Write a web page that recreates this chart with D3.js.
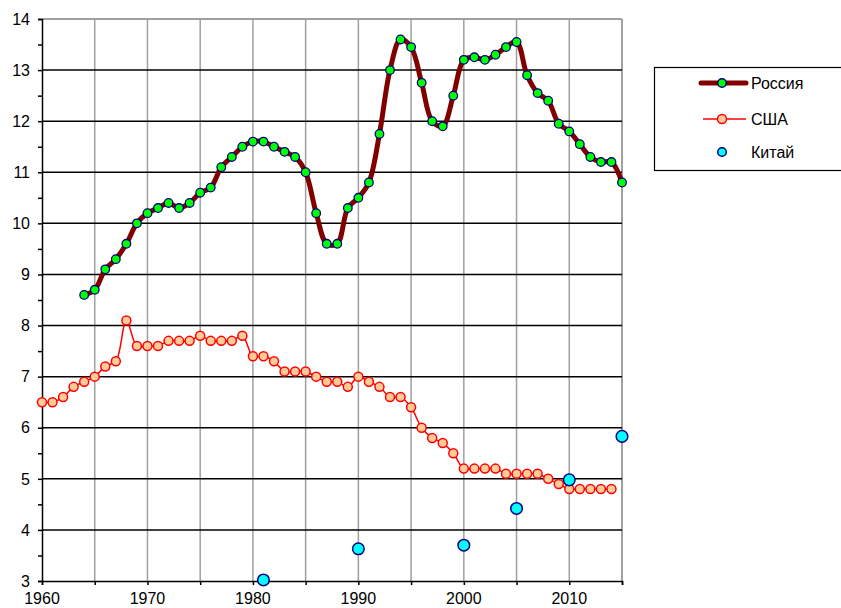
<!DOCTYPE html>
<html>
<head>
<meta charset="utf-8">
<script src="https://cdn.jsdelivr.net/npm/d3@7"></script>
<style>
  body { margin: 0; background: #fff; }
  text { font-family: "Liberation Sans", Arial, sans-serif; font-size: 16px; fill: #000; }
</style>
</head>
<body>
<div id="chart"></div>
<script>
// data
var russiaYears = d3.range(1964, 2016)
var russiaValues = [8.6, 8.7, 9.1, 9.3, 9.6, 10.0, 10.2, 10.3, 10.4, 10.3,
    10.4, 10.6, 10.7, 11.1, 11.3, 11.5, 11.6, 11.6, 11.5, 11.4,
    11.3, 11.0, 10.2, 9.6, 9.6, 10.3, 10.5, 10.8, 11.75, 13.0,
    13.6, 13.45, 12.75, 12.0, 11.9, 12.5, 13.2, 13.25, 13.2, 13.3,
    13.45, 13.55, 12.9, 12.55, 12.4, 11.95, 11.8, 11.55, 11.3, 11.2,
    11.2, 10.8]

var usaYears = d3.range(1960, 2015)
var usaValues = [6.5, 6.5, 6.6, 6.8, 6.9, 7.0, 7.2, 7.3, 8.1, 7.6,
    7.6, 7.6, 7.7, 7.7, 7.7, 7.8, 7.7, 7.7, 7.7, 7.8,
    7.4, 7.4, 7.3, 7.1, 7.1, 7.1, 7.0, 6.9, 6.9, 6.8,
    7.0, 6.9, 6.8, 6.6, 6.6, 6.4, 6.0, 5.8, 5.7, 5.5,
    5.2, 5.2, 5.2, 5.2, 5.1, 5.1, 5.1, 5.1, 5.0, 4.9,
    4.8, 4.8, 4.8, 4.8, 4.8]

var chinaYears = [1981, 1990, 2000, 2005, 2010, 2015]
var chinaValues = [3.02, 3.63, 3.7, 4.42, 4.98, 5.83]

var seriesNames = ["Россия", "США", "Китай"]
var xTickLabels = [1960, 1970, 1980, 1990, 2000, 2010]
var yTickLabels = [3, 4, 5, 6, 7, 8, 9, 10, 11, 12, 13, 14]

// set the dimensions of the plot
var margin = {top: 19, left: 42},
    width = 580,
    height = 562

var svg = d3.select("#chart")
    .append("svg")
    .attr("width", 841)
    .attr("height", 608)

var g = svg.append("g")
    .attr("transform", "translate(" + margin.left + "," + margin.top + ")")

var x = d3.scaleLinear().domain([1960, 2015]).range([0, width])
var y = d3.scaleLinear().domain([3, 14]).range([height, 0])

// vertical grid (gray, every 5 years)
g.append("g")
    .selectAll("line")
    .data(d3.range(1965, 2016, 5))
    .enter().append("line")
    .attr("x1", d => x(d)).attr("x2", d => x(d))
    .attr("y1", 0).attr("y2", height)
    .style("stroke", "#a0a0a0")
    .style("stroke-width", d => d == 2015 ? 2 : 1.5)

// horizontal grid (black)
g.append("g")
    .selectAll("line")
    .data(d3.range(4, 15))
    .enter().append("line")
    .attr("x1", 0).attr("x2", width)
    .attr("y1", d => y(d)).attr("y2", d => y(d))
    .style("stroke", d => d == 14 ? "#a0a0a0" : "#000")
    .style("stroke-width", d => d == 14 ? 2 : 1.5)

// y axis
var yAxis = g.append("g")
    .call(d3.axisLeft(y).tickValues(d3.range(3, 14.01, 0.5)).tickSize(4).tickFormat(""))
yAxis.selectAll("path, line").style("stroke", "#000").style("stroke-width", 1.5)
g.append("g")
    .selectAll("text")
    .data(yTickLabels)
    .enter().append("text")
    .attr("x", -12)
    .attr("y", d => y(d))
    .attr("dy", "0.36em")
    .attr("text-anchor", "end")
    .text(d => d)

// x axis
var xAxis = g.append("g")
    .attr("transform", "translate(0," + height + ")")
    .call(d3.axisBottom(x).tickValues(d3.range(1960, 2016, 5)).tickSize(4).tickFormat(""))
xAxis.selectAll("path, line").style("stroke", "#000").style("stroke-width", 1.5)
g.append("g")
    .selectAll("text")
    .data(xTickLabels)
    .enter().append("text")
    .attr("x", d => x(d))
    .attr("y", height + 23)
    .attr("text-anchor", "middle")
    .text(d => d)

var curve = d3.curveCatmullRom.alpha(0.5)

// USA
var usa = usaYears.map((d, i) => ({year: d, value: usaValues[i]}))
g.append("path")
    .datum(usa)
    .attr("fill", "none")
    .attr("stroke", "#ff0000")
    .attr("stroke-width", 1.5)
    .attr("d", d3.line().curve(curve).x(d => x(d.year)).y(d => y(d.value)))
g.selectAll("usaDots")
    .data(usa)
    .enter().append("circle")
    .attr("cx", d => x(d.year))
    .attr("cy", d => y(d.value))
    .attr("r", 4.5)
    .style("fill", "#ffcc99")
    .style("stroke", "#ff0000")
    .style("stroke-width", 1.5)

// Russia
var russia = russiaYears.map((d, i) => ({year: d, value: russiaValues[i]}))
g.append("path")
    .datum(russia)
    .attr("fill", "none")
    .attr("stroke", "#800000")
    .attr("stroke-width", 5)
    .attr("d", d3.line().curve(curve).x(d => x(d.year)).y(d => y(d.value)))
g.selectAll("russiaDots")
    .data(russia)
    .enter().append("circle")
    .attr("cx", d => x(d.year))
    .attr("cy", d => y(d.value))
    .attr("r", 4.3)
    .style("fill", "#00ff00")
    .style("stroke", "#000080")
    .style("stroke-width", 1.3)

// China
g.selectAll("chinaDots")
    .data(chinaYears.map((d, i) => ({year: d, value: chinaValues[i]})))
    .enter().append("circle")
    .attr("cx", d => x(d.year))
    .attr("cy", d => y(d.value))
    .attr("r", 5.8)
    .style("fill", "#00ffff")
    .style("stroke", "#000080")
    .style("stroke-width", 1.5)

// legend
var legend = svg.append("g")
legend.append("rect")
    .attr("x", 654.5).attr("y", 67.5)
    .attr("width", 200).attr("height", 103)
    .style("fill", "#fff")
    .style("stroke", "#000")
    .style("stroke-width", 1.2)

var legendY = [83, 119, 152]
var legendStyle = [
    {line: "#800000", lw: 5, fill: "#00ff00", stroke: "#000080", r: 4.3},
    {line: "#ff0000", lw: 1.5, fill: "#ffcc99", stroke: "#ff0000", r: 4.5},
    {line: null, lw: 0, fill: "#00ffff", stroke: "#000080", r: 4.3}
]
seriesNames.forEach(function(name, i) {
    var s = legendStyle[i]
    if (s.line) {
        legend.append("line")
            .attr("x1", i == 0 ? 701 : 703).attr("x2", 746)
            .attr("y1", legendY[i]).attr("y2", legendY[i])
            .style("stroke", s.line)
            .style("stroke-width", s.lw)
            .style("stroke-linecap", i == 0 ? "round" : "butt")
    }
    legend.append("circle")
        .attr("cx", 722).attr("cy", legendY[i])
        .attr("r", s.r)
        .style("fill", s.fill)
        .style("stroke", s.stroke)
        .style("stroke-width", 1.5)
    legend.append("text")
        .attr("x", 751).attr("y", legendY[i])
        .attr("dy", "0.36em")
        .text(name)
})
</script>
</body>
</html>
